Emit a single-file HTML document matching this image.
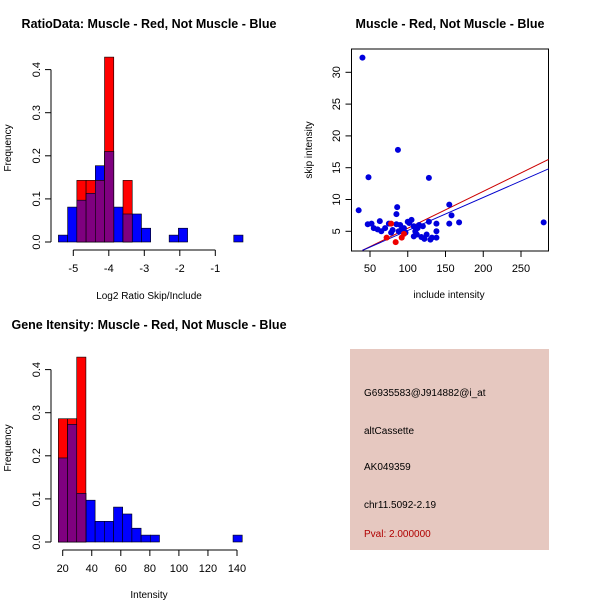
<!DOCTYPE html>
<html><head><meta charset="utf-8"><style>
body{margin:0;background:#fff;}
svg{display:block;font-family:"Liberation Sans",sans-serif;}
</style></head><body>
<svg id="c" width="600" height="600" xmlns="http://www.w3.org/2000/svg">
<text x="149" y="28" font-size="12.5" font-weight="bold" text-anchor="middle">RatioData: Muscle - Red, Not Muscle - Blue</text>
<text x="450" y="28" font-size="12.5" font-weight="bold" text-anchor="middle">Muscle - Red, Not Muscle - Blue</text>
<text x="149" y="329" font-size="12.5" font-weight="bold" text-anchor="middle">Gene Itensity: Muscle - Red, Not Muscle - Blue</text>
<text x="149" y="299" font-size="10" text-anchor="middle">Log2 Ratio Skip/Include</text>
<text x="149" y="598" font-size="10" text-anchor="middle">Intensity</text>
<text transform="translate(11,148) rotate(-90)" font-size="10" text-anchor="middle">Frequency</text>
<text transform="translate(11,448) rotate(-90)" font-size="10" text-anchor="middle">Frequency</text>
<text x="449" y="298" font-size="10" text-anchor="middle">include intensity</text>
<text transform="translate(312,150) rotate(-90)" font-size="10" text-anchor="middle">skip intensity</text>
<g id="h1"></g><g id="h2"></g><g id="sc"></g>
<rect x="350" y="349" width="199" height="201" fill="#e6c8c0"/>
<g font-size="10">
<text x="364" y="396">G6935583@J914882@i_at</text>
<text x="364" y="434">altCassette</text>
<text x="364" y="470">AK049359</text>
<text x="364" y="508">chr11.5092-2.19</text>
<text x="364" y="537" fill="#b00000">Pval: 2.000000</text>
</g>
</svg>
<script>
const ratioBlue=[0.016,0.081,0.097,0.113,0.177,0.21,0.081,0.065,0.065,0.032,0,0,0.016,0.032,0,0,0,0,0,0.016];
const ratioRed=[0,0,0.143,0.143,0.143,0.429,0,0.143,0,0,0,0,0,0,0,0,0,0,0,0];
const ratioTicks=[-5,-4,-3,-2,-1];
const intBlue=[0.195,0.273,0.113,0.097,0.048,0.048,0.081,0.065,0.032,0.016,0.016,0,0,0,0,0,0,0,0,0.016];
const intRed=[0.286,0.286,0.429,0,0,0,0,0,0,0,0,0,0,0,0,0,0,0,0,0];
const intTicks=[20,40,60,80,100,120,140];
const freqTicks=[0,0.1,0.2,0.3,0.4];
const blueX=[40,35,48,87,128,86,85,155,158,168,280,155,138,138,138,128,130,125,122,120,115,110,108,105,100,95,90,88,85,80,78,75,70,65,63,60,55,52,47,112,118,132,102,97,92,108,113];
const blueY=[32.3,8.3,13.5,17.8,13.4,8.8,7.7,9.2,7.5,6.4,6.4,6.2,6.2,5,4,6.5,3.7,4.5,3.8,5.8,6,5,4.2,6.8,6.5,5.5,6,5,6.1,5.2,4.8,6.2,5.5,5,6.6,5.3,5.5,6.2,6.1,4.5,4.1,4,6.3,4.8,5.3,5.8,5.5];
const redX=[72,84,92,78,95];
const redY=[4,3.3,4,6.2,4.6];
const scXTicks=[50,100,150,200,250];
const scYTicks=[5,10,15,20,25,30];
const redLine=[[40,2],[290,16.5]];
const blueLine=[[40,2],[290,15]];
const NS="http://www.w3.org/2000/svg";
function mk(p,t,a){const e=document.createElementNS(NS,t);for(const k in a)e.setAttribute(k,a[k]);p.appendChild(e);return e;}
function hist(g,blue,red,x0,bw,xs,xAt,ticks,y0px){
  const ys=v=>y0px-v*431;
  const xp=i=>xs(x0+i*bw);
  blue.forEach((v,i)=>{if(v>0){const r=mk(g,'rect',{x:xp(i),y:ys(v),width:xp(i+1)-xp(i),height:y0px-ys(v),fill:'#0000ff',stroke:'#000','stroke-width':0.6});

}});
  red.forEach((v,i)=>{if(v>0){const r=mk(g,'rect',{x:xp(i),y:ys(v),width:xp(i+1)-xp(i),height:y0px-ys(v),fill:'#ff0000',stroke:'#000','stroke-width':0.6});

}});
  red.forEach((v,i)=>{const m=Math.min(v,blue[i]);if(m>0){const r=mk(g,'rect',{x:xp(i),y:ys(m),width:xp(i+1)-xp(i),height:y0px-ys(m),fill:'#7f007f',stroke:'#000','stroke-width':0.6});

}});
  mk(g,'line',{x1:51,x2:51,y1:ys(0),y2:ys(0.4),stroke:'#000'});
  freqTicks.forEach(t=>{mk(g,'line',{x1:45,x2:51,y1:ys(t),y2:ys(t),stroke:'#000'});
    const tx=mk(g,'text',{transform:`translate(40,${ys(t)}) rotate(-90)`,'font-size':11,'text-anchor':'middle'});tx.textContent=String(t===0?'0.0':t);

});
  const ay=y0px+8;
  mk(g,'line',{x1:xs(ticks[0]),x2:xs(ticks[ticks.length-1]),y1:ay,y2:ay,stroke:'#000'});
  ticks.forEach(t=>{mk(g,'line',{x1:xs(t),x2:xs(t),y1:ay,y2:ay+6,stroke:'#000'});
    const tx=mk(g,'text',{x:xs(t),y:ay+22,'font-size':11,'text-anchor':'middle'});tx.textContent=String(t);

});
}
const h1=document.getElementById('h1');


hist(h1,ratioBlue,ratioRed,-5.42,0.26,v=>73.3+(v+5)*35.5,null,ratioTicks,242);
const h2=document.getElementById('h2');


hist(h2,intBlue,intRed,17,6.33,v=>62.7+(v-20)*1.4525,null,intTicks,542);
const sc=document.getElementById('sc');


const sx=v=>370+(v-50)*0.755, sy=v=>231.3-(v-5)*6.36;
mk(sc,'rect',{x:351.5,y:49,width:197,height:202,fill:'none',stroke:'#000'});
const cp=mk(sc,'clipPath',{id:'cp'});mk(cp,'rect',{x:351.5,y:49,width:197,height:202});
[[redLine,'#cc0000'],[blueLine,'#0000cc']].forEach(([l,c])=>{const e=mk(sc,'line',{x1:sx(l[0][0]),y1:sy(l[0][1]),x2:sx(l[1][0]),y2:sy(l[1][1]),stroke:c,'clip-path':'url(#cp)'});

});
blueX.forEach((v,i)=>{const e=mk(sc,'circle',{cx:sx(v),cy:sy(blueY[i]),r:3,fill:'#0000dd'});

});
redX.forEach((v,i)=>{const e=mk(sc,'circle',{cx:sx(v),cy:sy(redY[i]),r:3,fill:'#ee0000'});

});
scXTicks.forEach(t=>{mk(sc,'line',{x1:sx(t),x2:sx(t),y1:251,y2:257,stroke:'#000'});
  const tx=mk(sc,'text',{x:sx(t),y:272,'font-size':11,'text-anchor':'middle'});tx.textContent=String(t);

});
scYTicks.forEach(t=>{mk(sc,'line',{x1:345.5,x2:351.5,y1:sy(t),y2:sy(t),stroke:'#000'});
  const tx=mk(sc,'text',{transform:`translate(340,${sy(t)}) rotate(-90)`,'font-size':11,'text-anchor':'middle'});tx.textContent=String(t);

});
</script>
</body></html>
